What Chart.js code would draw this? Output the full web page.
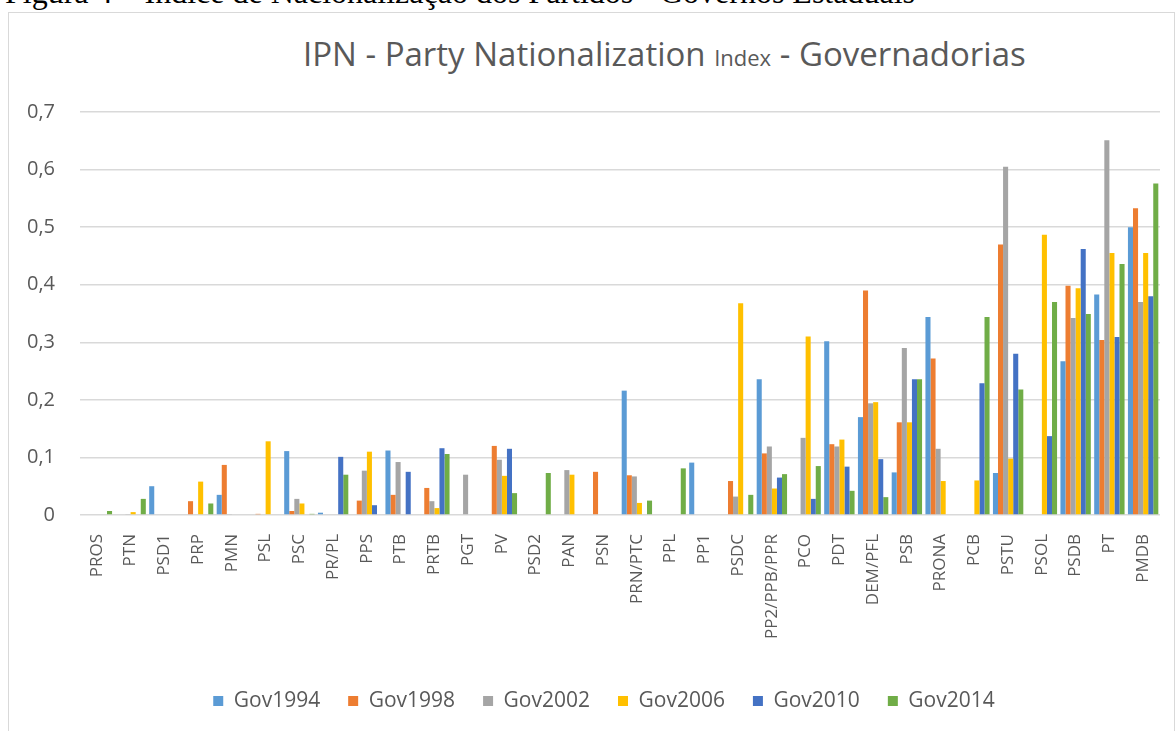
<!DOCTYPE html>
<html>
<head>
<meta charset="utf-8">
<script src="https://cdn.jsdelivr.net/npm/chart.js@4.4.0/dist/chart.umd.min.js"></script>
<style>
    body { margin: 0; width: 1176px; height: 731px; overflow: hidden; background: #fff; position: relative; }
    #legenda { position: absolute; left: 5px; top: -24px; font: 32px 'Liberation Serif', serif; line-height: 32px; white-space: nowrap; color: #000; }
    #moldura { position: absolute; left: 8px; top: 12px; width: 1165px; height: 740px; border: 1px solid #d9d9d9; }
    #titulo { position: absolute; left: 303px; top: 37px; font: 33px 'Open Sans', sans-serif; line-height: 33px; white-space: nowrap; color: #595959; }
    #titulo small { font-size: 22px; }
    #grafico { position: absolute; left: 0; top: 0; }
</style>
</head>
<body>
<div id="legenda">Figura 4 – Índice de Nacionalização dos Partidos - Governos Estaduais</div>
<div id="moldura"></div>
<div id="titulo">IPN - Party Nationalization <small>Index</small> - Governadorias</div>
<canvas id="grafico" width="1176" height="731"></canvas>
<script>
const partidos = ['PROS', 'PTN', 'PSD1', 'PRP', 'PMN', 'PSL', 'PSC', 'PR/PL', 'PPS', 'PTB', 'PRTB', 'PGT', 'PV', 'PSD2', 'PAN', 'PSN',
    'PRN/PTC', 'PPL', 'PP1', 'PSDC', 'PP2/PPB/PPR', 'PCO', 'PDT', 'DEM/PFL', 'PSB', 'PRONA', 'PCB', 'PSTU', 'PSOL', 'PSDB', 'PT', 'PMDB'];

const gov1994 = [0, 0, 0.050, 0, 0.035, 0, 0.111, 0.004, 0, 0.112, 0, 0, 0, 0, 0, 0,
    0.216, 0, 0.091, 0, 0.236, 0, 0.302, 0.170, 0.074, 0.344, 0, 0.073, 0, 0.267, 0.383, 0.500];
const gov1998 = [0, 0, 0, 0.024, 0.087, 0.002, 0.007, 0, 0.025, 0.035, 0.047, 0, 0.120, 0, 0, 0.075,
    0.069, 0, 0, 0.059, 0.107, 0, 0.123, 0.390, 0.161, 0.272, 0, 0.470, 0, 0.398, 0.304, 0.533];
const gov2002 = [0, 0.001, 0, 0, 0.001, 0, 0.028, 0, 0.077, 0.092, 0.024, 0.070, 0.096, 0, 0.078, 0,
    0.067, 0, 0, 0.032, 0.119, 0.134, 0.119, 0.194, 0.290, 0.115, 0, 0.605, 0, 0.342, 0.651, 0.370];
const gov2006 = [0, 0.005, 0, 0.058, 0, 0.128, 0.020, 0, 0.110, 0, 0.012, 0, 0.068, 0, 0.070, 0,
    0.021, 0, 0, 0.368, 0.046, 0.310, 0.131, 0.196, 0.161, 0.059, 0.060, 0.098, 0.487, 0.394, 0.455, 0.455];
const gov2010 = [0, 0, 0, 0, 0, 0, 0, 0.101, 0.017, 0.075, 0.116, 0, 0.115, 0, 0, 0,
    0, 0, 0, 0, 0.065, 0.028, 0.084, 0.097, 0.236, 0, 0.229, 0.280, 0.137, 0.462, 0.309, 0.380];
const gov2014 = [0.007, 0.028, 0, 0.020, 0, 0, 0.002, 0.070, 0, 0, 0.106, 0, 0.038, 0.073, 0, 0,
    0.025, 0.081, 0, 0.035, 0.071, 0.085, 0.042, 0.031, 0.236, 0, 0.344, 0.218, 0.370, 0.349, 0.436, 0.576];

const yTicks = ['0', '0,1', '0,2', '0,3', '0,4', '0,5', '0,6', '0,7'];

const series = [
    { label: 'Gov1994', data: gov1994, cor: '#5B9BD5' },
    { label: 'Gov1998', data: gov1998, cor: '#ED7D31' },
    { label: 'Gov2002', data: gov2002, cor: '#A5A5A5' },
    { label: 'Gov2006', data: gov2006, cor: '#FFC000' },
    { label: 'Gov2010', data: gov2010, cor: '#4472C4' },
    { label: 'Gov2014', data: gov2014, cor: '#70AD47' }
];

const familia = "'Open Sans', sans-serif";
const cinza = '#595959';

// legenda um pouco deslocada para a esquerda, como no Excel
const deslocaLegenda = {
    id: 'deslocaLegenda',
    afterLayout(chart) {
        chart.legend.left -= 32;
    }
};

new Chart(document.getElementById('grafico'), {
    type: 'bar',
    data: {
        labels: partidos,
        datasets: series.map(s => ({
            label: s.label,
            data: s.data,
            backgroundColor: s.cor,
            borderWidth: 0,
            categoryPercentage: 0.9,
            barPercentage: 1
        }))
    },
    options: {
        responsive: false,
        animation: false,
        devicePixelRatio: 1,
        layout: { padding: { left: 0, top: 112, right: 16, bottom: 9.5 } },
        plugins: {
            tooltip: { enabled: false },
            legend: {
                position: 'bottom',
                fullSize: false,
                labels: { font: { family: familia, size: 21 }, color: cinza, boxWidth: 10, boxHeight: 10, padding: 28 }
            }
        },
        scales: {
            x: {
                grid: { display: false },
                border: { display: false },
                ticks: { autoSkip: false, maxRotation: 90, minRotation: 90, padding: 11, font: { family: familia, size: 17 }, color: cinza },
                afterFit: s => { s.height = 147.5; }
            },
            y: {
                min: 0,
                max: 0.7,
                grid: { color: '#d9d9d9', lineWidth: 1.5, drawTicks: false },
                border: { display: false },
                ticks: { stepSize: 0.1, padding: 25, font: { family: familia, size: 20 }, color: cinza, callback: (v, i) => yTicks[i] },
                afterFit: s => { s.width = 80; }
            }
        }
    },
    plugins: [deslocaLegenda]
});
</script>
</body>
</html>
